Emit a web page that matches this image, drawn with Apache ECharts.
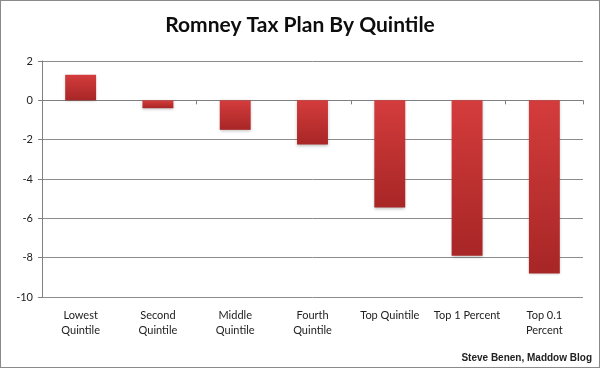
<!DOCTYPE html>
<html><head><meta charset="utf-8">
<script src="https://cdn.jsdelivr.net/npm/echarts@6/dist/echarts.min.js"></script>
<style>html,body{margin:0;padding:0;background:#fff}#c{width:598px;height:366px;border:1px solid #8a8a8a}</style>
</head><body><div id="c"></div>
<script>
const categories = ['Lowest\nQuintile','Second\nQuintile','Middle\nQuintile','Fourth\nQuintile','Top Quintile','Top 1 Percent','Top 0.1\nPercent'];
const values = [1.3, -0.4, -1.5, -2.25, -5.45, -7.9, -8.8];
const yTicks = {min: -10, max: 2, interval: 2};

const chart = echarts.init(document.getElementById('c'));
const font = 'Lato, "Open Sans", sans-serif';
chart.setOption({
  animation: false,
  title: {text: 'Romney Tax Plan By Quintile', left: 'center', top: 9,
    textStyle: {fontFamily: font, fontWeight: 'bold', fontSize: 21, color: '#0d0d0d'}},
  graphic: [{type: 'text', right: 7, bottom: 4,
    style: {text: 'Steve Benen, Maddow Blog', font: 'bold 10px "Liberation Sans", Arial, sans-serif', fill: '#222'}}],
  grid: {left: 41, right: 16, top: 60, bottom: 70},
  xAxis: [{
    type: 'category', data: categories, position: 'bottom',
    axisLine: {show: false, onZero: false}, axisTick: {show: false},
    axisLabel: {fontFamily: font, fontSize: 11, color: '#222', lineHeight: 15, margin: 11, interval: 0}
  }, {
    type: 'category', data: categories, position: 'bottom',
    axisLine: {onZero: true, lineStyle: {color: '#808080', width: 1}},
    axisTick: {show: true, inside: false, length: 4, lineStyle: {color: '#808080'}},
    axisLabel: {show: false}
  }],
  yAxis: {
    type: 'value', min: yTicks.min, max: yTicks.max, interval: yTicks.interval,
    axisLine: {show: true, lineStyle: {color: '#808080'}},
    axisTick: {show: true, length: 4, lineStyle: {color: '#808080'}},
    axisLabel: {fontFamily: font, fontSize: 11, color: '#222', margin: 9},
    splitLine: {lineStyle: {color: '#8c8c8c', width: 1}}
  },
  series: [{
    type: 'bar', xAxisIndex: 0, data: values, barCategoryGap: '60%',
    itemStyle: {
      color: new echarts.graphic.LinearGradient(0, 0, 0, 1, [
        {offset: 0, color: '#d43c3c'}, {offset: 1, color: '#a82626'}]),
      shadowColor: 'rgba(0,0,0,0.25)', shadowBlur: 3, shadowOffsetY: 1
    }
  }]
});
</script></body></html>
